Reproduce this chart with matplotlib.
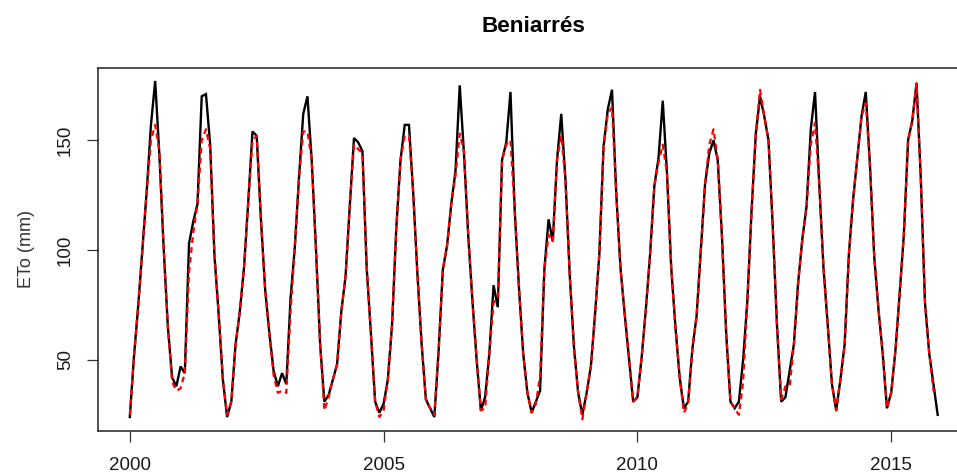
import numpy as np
import matplotlib
matplotlib.use("Agg")
import matplotlib.pyplot as plt

plt.rcParams['font.family'] = ['Liberation Sans', 'DejaVu Sans']

station = "Beniarrés"
y_label = "ETo (mm)"
start_year = 2000
x_ticks = [2000, 2005, 2010, 2015]
y_ticks = [50, 100, 150]

# Monthly reference evapotranspiration (mm), Jan 2000 - Dec 2015
eto_observed = [
    24, 52, 75, 101, 127, 157, 177, 143, 101, 65, 42, 38,
    47, 44, 103, 113, 121, 170, 171, 148, 98, 71, 41, 24,
    31, 57, 72, 92, 122, 154, 152, 114, 82, 62, 45, 38,
    44, 39, 78, 101, 133, 162, 170, 141, 101, 57, 31, 34,
    41, 48, 72, 88, 120, 151, 149, 145, 92, 62, 31, 26,
    30, 41, 66, 110, 141, 157, 157, 126, 89, 57, 32, 28,
    24, 54, 91, 102, 121, 136, 175, 144, 107, 77, 50, 27,
    33, 53, 84, 74, 141, 149, 172, 118, 83, 53, 35, 26,
    31, 36, 91, 114, 104, 141, 162, 132, 89, 56, 35, 25,
    35, 47, 71, 98, 147, 164, 173, 126, 92, 71, 51, 31,
    33, 51, 73, 98, 129, 142, 168, 135, 92, 65, 42, 28,
    31, 55, 70, 100, 130, 144, 150, 141, 106, 62, 31, 28,
    31, 50, 77, 118, 153, 170, 161, 150, 111, 66, 31, 33,
    45, 57, 85, 105, 120, 155, 172, 130, 92, 66, 39, 27,
    41, 57, 98, 123, 142, 161, 172, 138, 97, 73, 53, 28,
    35, 54, 80, 107, 150, 159, 176, 133, 76, 53, 39, 25,
]

eto_estimated = [
    25, 52, 75, 101, 127, 150, 157, 145, 101, 65, 40, 36,
    37, 44, 90, 108, 121, 150, 155, 146, 98, 71, 41, 25,
    31, 57, 72, 92, 122, 150, 152, 114, 82, 62, 43, 35,
    36, 35, 72, 101, 133, 154, 154, 141, 101, 57, 27, 33,
    41, 48, 72, 88, 120, 148, 146, 144, 92, 62, 31, 24,
    27, 41, 66, 110, 141, 152, 152, 126, 89, 57, 32, 28,
    25, 54, 91, 102, 121, 134, 153, 145, 107, 77, 50, 27,
    28, 53, 76, 78, 141, 148, 150, 118, 83, 53, 35, 26,
    30, 43, 91, 107, 104, 141, 152, 132, 89, 56, 35, 23,
    35, 47, 71, 98, 147, 162, 165, 126, 92, 71, 51, 31,
    33, 51, 73, 98, 129, 140, 148, 135, 92, 65, 42, 26,
    30, 55, 70, 100, 130, 148, 155, 141, 106, 62, 31, 28,
    25, 40, 77, 118, 153, 173, 161, 150, 111, 66, 32, 38,
    38, 57, 85, 105, 120, 148, 158, 130, 92, 66, 39, 27,
    41, 57, 98, 123, 142, 161, 167, 138, 97, 73, 53, 28,
    35, 54, 80, 107, 150, 159, 176, 133, 76, 53, 36, 36,
]

obs = np.array(eto_observed, dtype=float)
est = np.array(eto_estimated, dtype=float)
t = start_year + np.arange(len(obs)) / 12.0

W, H = 957, 475
fig = plt.figure(figsize=(W / 100, H / 100), dpi=100)
left, right, top, bottom = 97.5, 970, 67.5, 430.5
ax = fig.add_axes([left / W, (H - bottom) / H, (right - left) / W, (bottom - top) / H])

ax.plot(t, obs, color="black", lw=1.7, solid_joinstyle="miter")
ax.plot(t, est, color="#ff0000", lw=1.6, linestyle=(0, (2.6, 1.9)))

# R-style 4% padding around the data range
def padded(lo, hi):
    r = hi - lo
    return lo - 0.04 * r, hi + 0.04 * r

ax.set_xlim(*padded(t.min(), t.max()))
ax.set_ylim(*padded(obs.min(), obs.max()))

ax.set_xticks(x_ticks)
ax.set_yticks(y_ticks)
ax.set_xticklabels([str(v) for v in x_ticks])
ax.set_yticklabels([str(v) for v in y_ticks], rotation=90, va="center")
ax.tick_params(axis="both", length=8, width=0.9, color="#333333",
               labelsize=13.5, labelcolor="#1a1a1a")
ax.tick_params(axis="x", pad=11)
ax.tick_params(axis="y", pad=9)

for s in ax.spines.values():
    s.set_linewidth(1.1)
    s.set_color("#222222")

ax.set_ylabel(y_label, fontsize=13, color="#333333", labelpad=16)
ax.set_title(station, fontsize=16.2, fontweight="bold", pad=25.5)

fig.savefig("out.png", dpi=100, facecolor="white")
